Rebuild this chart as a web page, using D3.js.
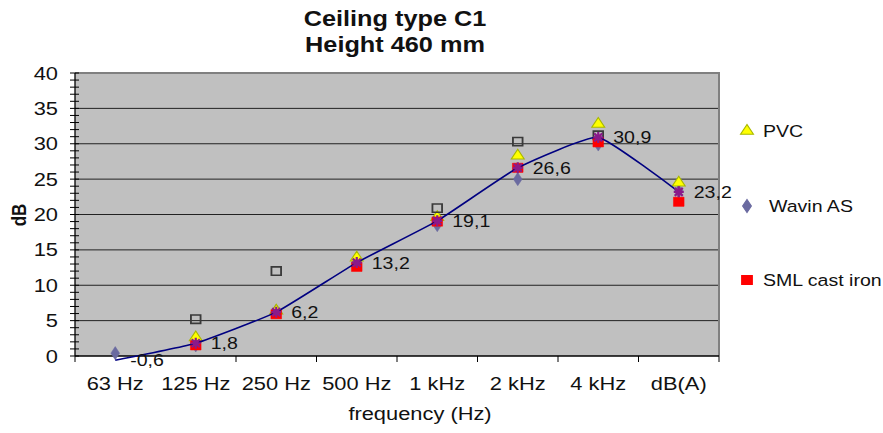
<!DOCTYPE html>
<html><head><meta charset="utf-8">
<script src="https://cdn.jsdelivr.net/npm/d3@7"></script>
<style>
body{margin:0;background:#fff}
svg{display:block}
text{font-family:"Liberation Sans",Arial,sans-serif;fill:#111}
</style>
</head><body>
<svg id="chart" width="883" height="433"></svg>
<script>
const titleLines = ["Ceiling type C1", "Height 460 mm"];
const categories = ["63 Hz","125 Hz","250 Hz","500 Hz","1 kHz","2 kHz","4 kHz","dB(A)"];
const average = [-0.6, 1.8, 6.2, 13.2, 19.1, 26.6, 30.9, 23.2];
const pvc     = [null, 2.6, 6.4, 13.9, 19.6, 28.3, 32.8, 24.5];
const wavin   = [0.4, 1.5, 6.4, 13.4, 18.5, 25.0, 29.9, 23.3];
const sml     = [null, 1.5, 5.9, 12.6, 19.0, 26.6, 30.2, 21.8];
const other   = [null, 5.2, 12.0, null, 20.9, 30.3, 31.2, null];
const yTicks  = [0, 5, 10, 15, 20, 25, 30, 35, 40];
const legendLabels = ["PVC", "Wavin AS", "SML cast iron"];
const xTitle = "frequency (Hz)";
const yTitle = "dB";

const SX = 1.15; // horizontal text stretch seen in the reference
const svg = d3.select("#chart");
svg.append("rect").attr("width",883).attr("height",433).attr("fill","#fff");

const L = 75, R = 719, T = 73, B = 356;
const x = d3.scaleBand().domain(categories).range([L, R]).padding(0);
const y = d3.scaleLinear().domain([0, 40]).range([B, T]);
const cx = c => x(c) + x.bandwidth() / 2;

function txt(g, px, py, s, size, anchor, weight) {
  return g.append("text")
    .attr("transform", `translate(${px},${py}) scale(${SX},1)`)
    .attr("font-size", size)
    .attr("text-anchor", anchor || "start")
    .attr("font-weight", weight || "normal")
    .text(s);
}

// plot background
svg.append("rect").attr("x", L).attr("y", T).attr("width", R - L).attr("height", B - T)
  .attr("fill", "#c0c0c0");

// gridlines
svg.append("g").selectAll("line").data(yTicks.filter(t => t > 0 && t < 40)).join("line")
  .attr("x1", L).attr("x2", R).attr("y1", d => y(d)).attr("y2", d => y(d))
  .attr("stroke", "#222").attr("stroke-width", 1);

// top/right border
svg.append("path").attr("d", `M${L},${y(40)}H${R}V${B}`).attr("fill", "none")
  .attr("stroke", "#808080").attr("stroke-width", 2);

// y axis with minor ticks
const yAxis = svg.append("g");
yAxis.append("line").attr("x1", L).attr("x2", L).attr("y1", T).attr("y2", B)
  .attr("stroke", "#000").attr("stroke-width", 1.3);
yAxis.selectAll("line.minor").data(d3.range(0, 41, 1)).join("line").attr("class", "minor")
  .attr("x1", L - 5).attr("x2", L + 4).attr("y1", d => y(d)).attr("y2", d => y(d))
  .attr("stroke", "#000").attr("stroke-width", 1);
yTicks.forEach(t => txt(yAxis, 58, y(t) + 6.5, String(t), 19, "end"));

// x axis
const xAxis = svg.append("g");
xAxis.append("line").attr("x1", L).attr("x2", R).attr("y1", B).attr("y2", B)
  .attr("stroke", "#000").attr("stroke-width", 1.3);
const bounds = categories.map(c => x(c)).concat([R]).filter((v, i) => i !== 1);
xAxis.selectAll("line.t").data(bounds).join("line").attr("class", "t")
  .attr("x1", d => d).attr("x2", d => d).attr("y1", B).attr("y2", B + 6)
  .attr("stroke", "#000");
categories.forEach(c => txt(xAxis, cx(c), 390, c, 19, "middle"));

// axis titles
txt(svg, 420, 420, xTitle, 19, "middle");
svg.append("text")
  .attr("transform", "translate(26,215) rotate(-90) scale(1,1.15)")
  .attr("font-size", 17).attr("font-weight", "bold").attr("text-anchor", "middle")
  .text(yTitle);

// title
txt(svg, 395, 26, titleLines[0], 22, "middle", "bold");
txt(svg, 395, 52, titleLines[1], 22, "middle", "bold");

// marker symbols
const sym = {
  tri: d3.symbol().type(d3.symbolTriangle).size(55),
  dia: d3.symbol().type(d3.symbolDiamond).size(50),
  sq:  d3.symbol().type(d3.symbolSquare).size(85),
  hsq: d3.symbol().type(d3.symbolSquare).size(70)
};
function pts(arr) {
  return categories.map((c, i) => ({c, v: arr[i]})).filter(d => d.v !== null && d.v >= 0);
}
function drawSeries(arr, path, fill, stroke, sw) {
  svg.append("g").selectAll("path").data(pts(arr)).join("path")
    .attr("d", path)
    .attr("transform", d => `translate(${cx(d.c)},${y(d.v)}) scale(${SX},1)`)
    .attr("fill", fill).attr("stroke", stroke).attr("stroke-width", sw);
}
drawSeries(wavin, sym.dia(), "#6a6aa0", "#6a6aa0", 0.5);
drawSeries(pvc, sym.tri(), "#ffff00", "#a8b800", 1);
drawSeries(other, sym.hsq(), "none", "#3a3a3a", 1.6);
drawSeries(sml, sym.sq(), "#ff0000", "#ff0000", 0.5);

// average line
const line = d3.line().x((d, i) => cx(categories[i])).y(d => y(d))
  .curve(d3.curveCardinal.tension(0.6));
svg.append("path").attr("d", line(average)).attr("fill", "none")
  .attr("stroke", "#000080").attr("stroke-width", 1.6);

// star markers
const starPath = "M-4,-4L4,4M-4,4L4,-4M0,-5.5L0,5.5M-5,0L5,0";
svg.append("g").selectAll("path").data(pts(average)).join("path")
  .attr("d", starPath)
  .attr("transform", d => `translate(${cx(d.c)},${y(d.v)})`)
  .attr("fill", "none").attr("stroke", "#8a1a8a").attr("stroke-width", 2.2);

// data labels
const fmt = v => d3.format(".1f")(v).replace(".", ",").replace("−", "-");
const lab = svg.append("g");
categories.forEach((c, i) => txt(lab, cx(c) + 15, y(average[i]) + 6, fmt(average[i]), 17, "start"));

// legend
const lg = svg.append("g");
const legendY = [131, 206, 280];
const legendSym = [sym.tri(), sym.dia(), sym.sq()];
const legendFill = ["#ffff00", "#6a6aa0", "#ff0000"];
const legendStroke = ["#a8b800", "#6a6aa0", "#ff0000"];
legendLabels.forEach((s, i) => {
  lg.append("path").attr("d", legendSym[i])
    .attr("transform", `translate(747,${legendY[i]}) scale(${SX},1)`)
    .attr("fill", legendFill[i]).attr("stroke", legendStroke[i]).attr("stroke-width", 1);
  txt(lg, i === 1 ? 769 : 763, legendY[i] + 6, s, 17, "start");
});
</script>
</body></html>
